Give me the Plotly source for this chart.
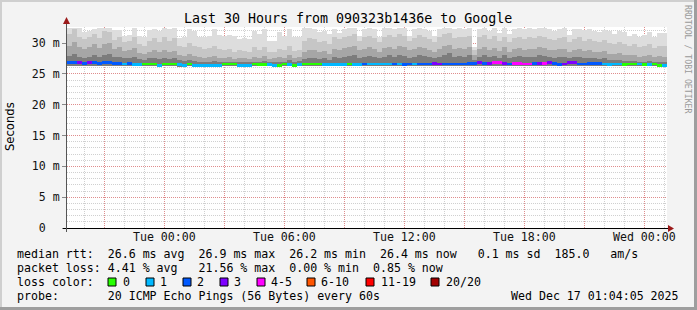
import pandas as pd
import plotly.graph_objects as go

# ---------------- data ----------------
start = pd.Timestamp("2025-12-15 19:08")
end = pd.Timestamp("2025-12-17 01:08")
step_min = 15
n_cols = 120
times = [start + pd.Timedelta(minutes=step_min * i + step_min / 2) for i in range(n_cols)]

smoke_min = [26.2] * 20 + [26.2, 26.2, 26.1, 26.1, 26.2, 26.1, 26.1, 26.1, 26.1, 26.1,
                           26.1, 26.2, 26.2, 26.2, 26.1, 26.1, 26.1, 26.2, 26.2, 26.2] + \
            [26.2] * 40 + [26.2] * 20 + [26.2] * 20

smoke_max = [32.4, 32.5, 32.5, 31.8, 31.9, 32.3, 32.4, 32.4, 32.4, 32.1, 32.1, 31.2, 31.3, 32.4, 31.2, 31.0, 32.1, 32.2, 32.0, 32.4,
             32.3, 32.4, 30.8, 30.9, 32.2, 32.0, 31.0, 30.9, 31.1, 32.3, 31.3, 31.2, 31.3, 31.1, 30.7, 30.8, 30.6, 32.0, 31.4, 32.3,
             30.4, 30.3, 31.8, 31.2, 32.3, 31.0, 30.9, 32.4, 32.4, 32.3, 31.8, 32.0, 31.4, 32.3, 31.7, 32.2, 32.4, 32.4, 31.1, 32.3,
             32.4, 32.2, 31.0, 32.4, 32.4, 32.3, 32.5, 32.4, 31.2, 32.3, 32.4, 32.3, 32.0, 31.1, 32.3, 32.4, 32.4, 32.3, 32.4, 32.2,
             32.4, 29.3, 32.3, 32.4, 32.0, 32.4, 31.6, 32.4, 31.5, 32.3, 32.4, 32.2, 32.4, 32.3, 32.4, 32.4, 32.2, 32.0, 32.3, 32.4,
             31.3, 32.2, 32.3, 32.1, 32.2, 32.0, 31.8, 32.1, 31.9, 31.4, 32.0, 31.8, 31.2, 31.5, 30.9, 31.3, 31.8, 31.0, 31.7, 31.6]

smoke_q3 = [31.5, 32.3, 31.0, 30.6, 31.0, 31.4, 30.8, 31.9, 31.8, 30.5, 30.9, 30.2, 30.4, 31.0, 29.8, 29.5, 30.3, 30.8, 30.2, 31.0,
            30.4, 30.8, 29.6, 29.4, 30.0, 29.5, 29.4, 29.0, 29.2, 29.6, 29.0, 28.8, 29.1, 28.6, 28.9, 28.7, 28.5, 29.3, 28.8, 29.4,
            28.6, 28.5, 29.0, 28.8, 29.6, 28.7, 28.9, 30.3, 30.8, 30.6, 30.2, 30.4, 29.8, 30.9, 30.6, 31.0, 31.2, 31.4, 30.4, 31.0,
            31.2, 30.8, 30.2, 31.0, 31.3, 30.9, 31.5, 31.2, 30.4, 30.8, 31.3, 31.0, 30.7, 30.2, 30.9, 31.4, 31.6, 30.8, 31.0, 30.9,
            31.2, 28.8, 30.9, 31.3, 30.6, 31.1, 30.4, 31.0, 30.2, 30.8, 31.0, 30.6, 30.9, 30.8, 31.2, 31.0, 30.7, 30.5, 30.8, 30.9,
            30.2, 30.6, 30.9, 30.4, 30.6, 30.3, 30.2, 30.5, 30.0, 29.9, 30.2, 29.8, 29.6, 29.8, 29.3, 29.5, 29.8, 29.2, 29.6, 29.5]

smoke_q2 = [29.6, 30.1, 29.3, 29.0, 29.4, 29.8, 29.2, 29.9, 30.0, 29.1, 29.3, 28.7, 28.9, 29.2, 28.4, 28.3, 28.6, 28.9, 28.5, 28.8,
            28.5, 28.7, 28.0, 27.9, 28.2, 27.9, 27.8, 27.6, 27.7, 27.9, 27.6, 27.5, 27.7, 27.4, 27.6, 27.5, 27.4, 27.8, 27.5, 27.9,
            27.4, 27.5, 27.7, 27.6, 28.0, 27.6, 27.8, 28.6, 28.9, 28.8, 28.5, 28.7, 28.3, 29.0, 28.9, 29.2, 29.3, 29.5, 28.8, 29.1,
            29.3, 29.0, 28.6, 29.2, 29.4, 29.1, 29.6, 29.3, 28.8, 29.0, 29.4, 29.2, 28.9, 28.6, 29.1, 29.5, 29.7, 29.0, 29.2, 29.1,
            29.3, 28.0, 29.1, 29.4, 28.9, 29.2, 28.7, 29.3, 28.6, 29.0, 29.2, 28.9, 29.1, 29.0, 29.3, 29.2, 28.9, 28.8, 29.0, 29.1,
            28.6, 28.9, 29.0, 28.7, 28.8, 28.6, 28.5, 28.7, 28.3, 28.2, 28.4, 28.1, 28.0, 28.1, 27.8, 27.9, 28.1, 27.7, 27.9, 27.8]

smoke_q1 = [27.9, 28.2, 27.8, 27.6, 27.8, 28.0, 27.7, 28.1, 28.2, 27.7, 27.8, 27.5, 27.6, 27.7, 27.4, 27.3, 27.5, 27.6, 27.4, 27.5,
            27.4, 27.5, 27.2, 27.1, 27.3, 27.1, 27.0, 27.0, 27.0, 27.1, 27.0, 26.9, 27.0, 26.9, 27.0, 26.9, 26.9, 27.0, 26.9, 27.1,
            26.9, 26.9, 27.0, 27.0, 27.2, 27.0, 27.1, 27.4, 27.6, 27.5, 27.4, 27.5, 27.3, 27.7, 27.6, 27.8, 27.9, 28.0, 27.6, 27.8,
            27.9, 27.7, 27.5, 27.8, 28.0, 27.8, 28.1, 27.9, 27.6, 27.7, 28.0, 27.9, 27.7, 27.5, 27.8, 28.1, 28.4, 27.8, 27.9, 27.8,
            28.0, 27.3, 27.8, 28.0, 27.7, 27.9, 27.6, 28.0, 27.5, 27.8, 27.9, 27.7, 27.8, 27.8, 28.0, 27.9, 27.7, 27.6, 27.8, 27.8,
            27.5, 27.7, 27.8, 27.6, 27.6, 27.5, 27.4, 27.5, 27.3, 27.2, 27.3, 27.1, 27.1, 27.1, 27.0, 27.0, 27.1, 26.9, 27.0, 26.9]

median_rtt = [26.8, 26.8, 26.8, 26.7, 26.8, 26.8, 26.7, 26.8, 26.8, 26.7, 26.7, 26.6, 26.7, 26.5, 26.5, 26.6, 26.6, 26.6, 26.4, 26.6,
              26.6, 26.6, 26.5, 26.4, 26.6, 26.4, 26.4, 26.4, 26.4, 26.4, 26.4, 26.6, 26.6, 26.6, 26.3, 26.3, 26.3, 26.6, 26.5, 26.5,
              26.5, 26.4, 26.4, 26.6, 26.5, 26.4, 26.5, 26.6, 26.6, 26.6, 26.6, 26.5, 26.5, 26.5, 26.5, 26.5, 26.6, 26.5, 26.5, 26.6,
              26.6, 26.6, 26.6, 26.6, 26.6, 26.6, 26.6, 26.5, 26.6, 26.6, 26.6, 26.6, 26.6, 26.7, 26.6, 26.6, 26.6, 26.6, 26.6, 26.6,
              26.7, 26.7, 26.8, 26.7, 26.7, 26.8, 26.8, 26.7, 26.6, 26.7, 26.7, 26.6, 26.6, 26.7, 26.7, 26.7, 26.8, 26.7, 26.5, 26.6,
              26.8, 26.8, 26.6, 26.6, 26.7, 26.7, 26.7, 26.6, 26.5, 26.6, 26.6, 26.5, 26.6, 26.6, 26.6, 26.5, 26.5, 26.6, 26.4, 26.4]

lost_pings = [2, 2, 3, 2, 3, 2, 2, 2, 2, 2, 2, 1, 2, 1, 1, 0, 0, 0, 1, 0,
              0, 0, 1, 1, 0, 1, 1, 1, 1, 1, 1, 0, 0, 0, 1, 1, 1, 0, 0, 0,
              1, 1, 0, 0, 1, 0, 1, 0, 0, 0, 0, 1, 1, 1, 1, 1, 0, 1, 1, 2,
              1, 1, 1, 1, 1, 2, 1, 2, 2, 1, 2, 2, 2, 3, 3, 2, 2, 2, 2, 2,
              2, 2, 3, 2, 3, 4, 4, 3, 2, 4, 4, 4, 4, 2, 3, 4, 3, 2, 2, 3,
              3, 3, 2, 2, 2, 2, 2, 1, 1, 1, 1, 0, 0, 0, 1, 0, 1, 0, 0, 1]

loss_labels = ["0", "1", "2", "3", "4-5", "6-10", "11-19", "20/20"]
loss_upper = [0, 1, 2, 3, 5, 10, 19, 20]
loss_colors = ["#26ff00", "#00b8ff", "#0059ff", "#7e00ff", "#ff00ff", "#ff5500", "#ff0000", "#a10000"]

x_tick_times = ["2025-12-15 21:00", "2025-12-16 00:00", "2025-12-16 03:00", "2025-12-16 06:00",
                "2025-12-16 09:00", "2025-12-16 12:00", "2025-12-16 15:00", "2025-12-16 18:00",
                "2025-12-16 21:00", "2025-12-17 00:00"]
x_tick_text = ["", "Tue 00:00", "", "Tue 06:00", "", "Tue 12:00", "", "Tue 18:00", "", "Wed 00:00"]
y_tick_vals = [0, 5, 10, 15, 20, 25, 30]
y_tick_text = ["0\u00a0\u00a0", "5 m", "10 m", "15 m", "20 m", "25 m", "30 m"]

title_text = "Last 30 Hours from 090323b1436e to Google"
legend_lines = [
    "median rtt:  26.6 ms avg  26.9 ms max  26.2 ms min  26.4 ms now   0.1 ms sd  185.0   am/s",
    "packet loss: 4.41 % avg   21.56 % max  0.00 % min  0.85 % now",
    "loss color:",
    "probe:       20 ICMP Echo Pings (56 Bytes) every 60s",
]
stamp_text = "Wed Dec 17 01:04:05 2025"

# ---------------- geometry helpers (pixels -> paper) ----------------
W, H = 697, 310
L, R, T, B = 67, 667, 27, 228
PW, PH = R - L, B - T


def px(x):
    return (x - L) / PW


def py(y):
    return (B - y) / PH


def loss_color(n):
    for up, c in zip(loss_upper, loss_colors):
        if n <= up:
            return c
    return loss_colors[-1]


fig = go.Figure()
bar_w = step_min * 60 * 1000

smoke_layers = [(smoke_max, "#dddddd"), (smoke_q3, "#c6c6c6"), (smoke_q2, "#a6a6a6"), (smoke_q1, "#7c7c7c")]
for top, col in smoke_layers:
    fig.add_trace(go.Bar(
        x=times, y=[t - b for t, b in zip(top, smoke_min)], base=smoke_min,
        width=bar_w, marker=dict(color=col, line=dict(width=0)), hoverinfo="skip",
    ))

line_half = 0.22
fig.add_trace(go.Bar(
    x=times, y=[2 * line_half] * n_cols, base=[m - line_half for m in median_rtt],
    width=bar_w, marker=dict(color=[loss_color(n) for n in lost_pings], line=dict(width=0)),
    hoverinfo="skip",
))

mono = "DejaVu Sans Mono"
grid_red = "rgba(255,0,0,0.32)"
grid_gray = "rgba(150,150,150,0.45)"

fig.update_layout(
    width=W, height=H,
    margin=dict(l=L, r=W - R, t=T, b=H - B),
    paper_bgcolor="#f3f3f3", plot_bgcolor="#ffffff",
    barmode="overlay", bargap=0, showlegend=False,
    font=dict(family=mono, size=11.6, color="#111111"),
    xaxis=dict(
        type="date", range=[start, end],
        tickmode="array", tickvals=x_tick_times, ticktext=x_tick_text,
        showgrid=True, gridcolor=grid_red, griddash="1px,1px", gridwidth=1,
        ticks="", ticklabelstandoff=0,
        minor=dict(tickmode="linear", tick0="2025-12-15 20:00", dtick=3600000,
                   showgrid=True, gridcolor=grid_gray, griddash="1px,1px", ticks=""),
        zeroline=False, showline=False,
        tickfont=dict(family=mono, size=11.6, color="#111111"),
    ),
    yaxis=dict(
        range=[0, 32.6], tickmode="array", tickvals=y_tick_vals, ticktext=y_tick_text,
        showgrid=True, gridcolor=grid_red, griddash="1px,1px", gridwidth=1,
        ticks="outside", ticklen=4, tickcolor="#888888",
        minor=dict(tickmode="linear", tick0=0, dtick=1,
                   showgrid=True, gridcolor=grid_gray, griddash="1px,1px", ticks=""),
        zeroline=False, showline=False,
        tickfont=dict(family=mono, size=11.6, color="#111111"),
    ),
)

shapes = []
# frame
shapes.append(dict(type="rect", xref="paper", yref="paper", x0=px(0), x1=px(2), y0=py(0), y1=py(H), fillcolor="#cfcfcf", line=dict(width=0)))
shapes.append(dict(type="rect", xref="paper", yref="paper", x0=px(0), x1=px(W), y0=py(0), y1=py(2), fillcolor="#cfcfcf", line=dict(width=0)))
shapes.append(dict(type="rect", xref="paper", yref="paper", x0=px(W - 3), x1=px(W), y0=py(0), y1=py(H), fillcolor="#9e9e9e", line=dict(width=0)))
shapes.append(dict(type="rect", xref="paper", yref="paper", x0=px(0), x1=px(W), y0=py(H - 3), y1=py(H), fillcolor="#9e9e9e", line=dict(width=0)))
# axes
shapes.append(dict(type="line", xref="paper", yref="paper", x0=px(63), x1=px(669), y0=py(228.5), y1=py(228.5), line=dict(color="#000000", width=1)))
shapes.append(dict(type="line", xref="paper", yref="paper", x0=px(66.5), x1=px(66.5), y0=py(232), y1=py(22), line=dict(color="#555555", width=1)))
arrow_col = "#9b1a1a"
shapes.append(dict(type="path", xref="paper", yref="paper",
                   path=f"M {px(668)} {py(225)} L {px(674)} {py(228.5)} L {px(668)} {py(232)} Z",
                   fillcolor=arrow_col, line=dict(width=0)))
shapes.append(dict(type="path", xref="paper", yref="paper",
                   path=f"M {px(63)} {py(24)} L {px(66.5)} {py(17)} L {px(70)} {py(24)} Z",
                   fillcolor=arrow_col, line=dict(width=0)))

annotations = []
annotations.append(dict(text=title_text, xref="paper", yref="paper", x=px(348), y=py(19),
                        xanchor="center", yanchor="middle", showarrow=False,
                        font=dict(family=mono, size=13.3, color="#000000")))
annotations.append(dict(text="Seconds", xref="paper", yref="paper", x=px(10), y=py(127),
                        xanchor="center", yanchor="middle", showarrow=False, textangle=-90,
                        font=dict(family="DejaVu Sans", size=11.6, color="#000000")))
annotations.append(dict(text="RRDTOOL / TOBI OETIKER", xref="paper", yref="paper", x=px(688), y=py(59),
                        xanchor="center", yanchor="middle", showarrow=False, textangle=90,
                        font=dict(family=mono, size=8.2, color="#9a9a9a")))

line_y = [254, 268, 282, 296]
for txt, yy in zip(legend_lines, line_y):
    annotations.append(dict(text=txt.replace(" ", "\u00a0"), xref="paper", yref="paper", x=px(15), y=py(yy),
                            xanchor="left", yanchor="middle", showarrow=False,
                            font=dict(family=mono, size=11.6, color="#000000")))
annotations.append(dict(text=stamp_text.replace(" ", "\u00a0"), xref="paper", yref="paper", x=px(681), y=py(296),
                        xanchor="right", yanchor="middle", showarrow=False,
                        font=dict(family=mono, size=11.6, color="#000000")))

box_x = [108, 146, 183, 220, 257, 307, 366, 431]
label_x = [121, 158, 195, 232, 269, 319, 379, 444]
for lab, col, bx, lx in zip(loss_labels, loss_colors, box_x, label_x):
    shapes.append(dict(type="rect", xref="paper", yref="paper", x0=px(bx), x1=px(bx + 8),
                       y0=py(286), y1=py(278), fillcolor=col, line=dict(color="#000000", width=1)))
    annotations.append(dict(text=lab, xref="paper", yref="paper", x=px(lx), y=py(282),
                            xanchor="left", yanchor="middle", showarrow=False,
                            font=dict(family=mono, size=11.6, color="#000000")))

fig.update_layout(shapes=shapes, annotations=annotations)
fig.write_html("out.html")
